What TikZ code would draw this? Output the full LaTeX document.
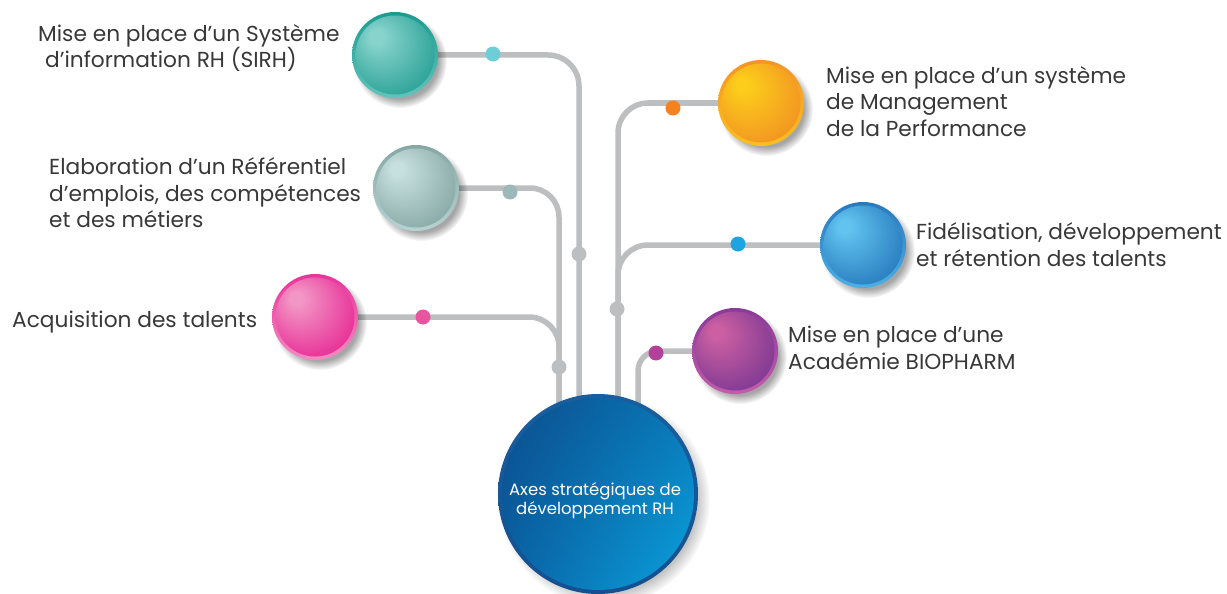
\documentclass[tikz,border=0pt]{standalone}
\usepackage{fontspec}
\setmainfont{Poppins}
\usetikzlibrary{backgrounds,fadings,shadings}
\colorlet{ballhl}{white}
\colorlet{balldk}{black}
\pgfdeclareradialshading[ballhl,balldk]{myball}{\pgfpoint{-13bp}{13bp}}{color(0bp)=(ballhl); color(4bp)=(ballhl); color(40bp)=(balldk); color(50bp)=(balldk)}
% colours
\definecolor{txt}{HTML}{383838}
\definecolor{wire}{HTML}{BDBEC0}
\definecolor{tealA}{HTML}{1A9C90}\definecolor{tealB}{HTML}{62C4BC}\definecolor{tealH}{HTML}{88D4CD}\definecolor{tealD}{HTML}{15968A}
\definecolor{grayA}{HTML}{85A7A4}\definecolor{grayB}{HTML}{B6D3D1}\definecolor{grayH}{HTML}{C6DFDF}\definecolor{grayD}{HTML}{7A9D99}
\definecolor{pinkA}{HTML}{E8359A}\definecolor{pinkB}{HTML}{F48BC1}\definecolor{pinkH}{HTML}{F296C5}\definecolor{pinkD}{HTML}{E5158B}
\definecolor{oranA}{HTML}{F39527}\definecolor{oranB}{HTML}{FBBF1E}\definecolor{oranH}{HTML}{FCCD1A}\definecolor{oranD}{HTML}{F08724}
\definecolor{blueA}{HTML}{2A78BE}\definecolor{blueB}{HTML}{4BB0E6}\definecolor{blueH}{HTML}{62C3EF}\definecolor{blueD}{HTML}{1B6CB3}
\definecolor{purpA}{HTML}{8A3A98}\definecolor{purpB}{HTML}{C45CAC}\definecolor{purpH}{HTML}{CC5FA2}\definecolor{purpD}{HTML}{6C3190}
\definecolor{dotteal}{HTML}{6ECDD6}\definecolor{dotgray}{HTML}{9DB9B7}\definecolor{dotpink}{HTML}{E8559F}
\definecolor{dotoran}{HTML}{F5821F}\definecolor{dotblue}{HTML}{1CA5E0}\definecolor{dotpurp}{HTML}{B3409A}
\definecolor{bigA}{HTML}{0B4D8C}\definecolor{bigB}{HTML}{0AA3DF}\definecolor{bigC}{HTML}{0A78B8}\definecolor{bigD}{HTML}{0A62A4}
\definecolor{bigrimA}{HTML}{1A5E9E}\definecolor{bigrimB}{HTML}{14508F}
\tikzset{
  ball/.style n args={4}{circle, minimum size=86pt, inner sep=0pt, path picture={
      \shade[top color=#1, bottom color=#2] (path picture bounding box.south west) rectangle (path picture bounding box.north east);
      \colorlet{ballhl}{#3}\colorlet{balldk}{#4}%
      \shade[shading=myball] (path picture bounding box.center) circle (39.5pt);
  }},
  bigball/.style={circle, minimum size=200pt, inner sep=0pt, path picture={
      \shade[top color=bigrimA, bottom color=bigrimB] (path picture bounding box.south west) rectangle (path picture bounding box.north east);
      \shade[upper left=bigA, lower right=bigB, upper right=bigC, lower left=bigD] (path picture bounding box.center) circle (96pt);
  }},
  wireline/.style={draw=wire, line width=5.5pt},
  dot/.style={circle, minimum size=15pt, inner sep=0pt, fill=#1},
  lbl/.style={font=\fontsize{21.7}{26.5}\selectfont, text=txt, align=left, inner sep=0pt, anchor=north west},
  shadowfill/.style={fill=black, opacity=0.35, path fading=circle with fuzzy edge 20 percent},
}
\begin{document}
\begin{tikzpicture}[x=1pt,y=-1pt]
\useasboundingbox (0,0) rectangle (1227,594);
% circles
\node[ball={tealA}{tealB}{tealH}{tealD}] (sirh) at (395,55) {};
\node[ball={grayA}{grayB}{grayH}{grayD}] (ref) at (416,188) {};
\node[ball={pinkA}{pinkB}{pinkH}{pinkD}] (acq) at (315,317) {};
\node[ball={oranA}{oranB}{oranH}{oranD}] (perf) at (761,103) {};
\node[ball={blueA}{blueB}{blueH}{blueD}] (fid) at (863,245) {};
\node[ball={purpA}{purpB}{purpH}{purpD}] (acad) at (735,351) {};
\node[bigball] (axes) at (598,494) {};
\node[align=center, text=white, inner sep=0pt, font=\fontsize{16.5}{19}\selectfont] (axestxt) at (595,501) {Axes stratégiques de\\développement RH};
% free ends under the central circle
\coordinate (e1) at (559,430);
\coordinate (e2) at (579,430);
\coordinate (e3) at (618,430);
\coordinate (e4) at (638,430);
\begin{scope}[on background layer]
  \draw[wireline, rounded corners=31pt] (sirh.east) -- (sirh.east -| e2) -- (e2);
  \draw[wireline, rounded corners=29pt] (ref.east) -- (ref.east -| e1) -- (e1);
  \draw[wireline, rounded corners=30pt] (acq.east) -- (acq.east -| e1) -- (e1);
  \draw[wireline, rounded corners=30pt] (perf.west) -- (perf.west -| e3) -- (e3);
  \draw[wireline, rounded corners=30pt] (fid.west) -- (fid.west -| e3) -- (e3);
  \draw[wireline, rounded corners=20pt] (acad.west) -- (acad.west -| e4) -- (e4);
  \foreach \c in {sirh,ref,acq,perf,fid,acad}
    \fill[shadowfill] ([shift={(5pt,-6pt)}]\c.center) circle (47pt);
  \fill[shadowfill] ([shift={(6pt,-6pt)}]axes.center) circle (106pt);
\end{scope}
% dots on the connectors
\node[dot=dotteal] (d1) at (493,54) {};
\node[dot=dotgray] (d2) at (510,192) {};
\node[dot=dotpink] (d3) at (423,317) {};
\node[dot=dotoran] (d4) at (673,108) {};
\node[dot=dotblue] (d5) at (738,244) {};
\node[dot=dotpurp] (d6) at (656,353) {};
\node[dot=wire] (g1) at (579,254) {};
\node[dot=wire] (g2) at (559,367) {};
\node[dot=wire] (g3) at (617,309) {};
% labels
\node[lbl] (t1) at (38,24) {Mise en place d’un Système\\\hspace*{7pt}d’information RH (SIRH)};
\node[lbl] (t2) at (49,157.5) {Elaboration d’un Référentiel\\d’emplois, des compétences\\et des métiers};
\node[lbl] (t3) at (12,311) {Acquisition des talents};
\node[lbl] (t4) at (826,66) {Mise en place d’un système\\de Management\\de la Performance};
\node[lbl] (t5) at (916,222.5) {Fidélisation, développement\\et rétention des talents};
\node[lbl] (t6) at (788,326) {Mise en place d’une\\Académie BIOPHARM};
\end{tikzpicture}
\end{document}
